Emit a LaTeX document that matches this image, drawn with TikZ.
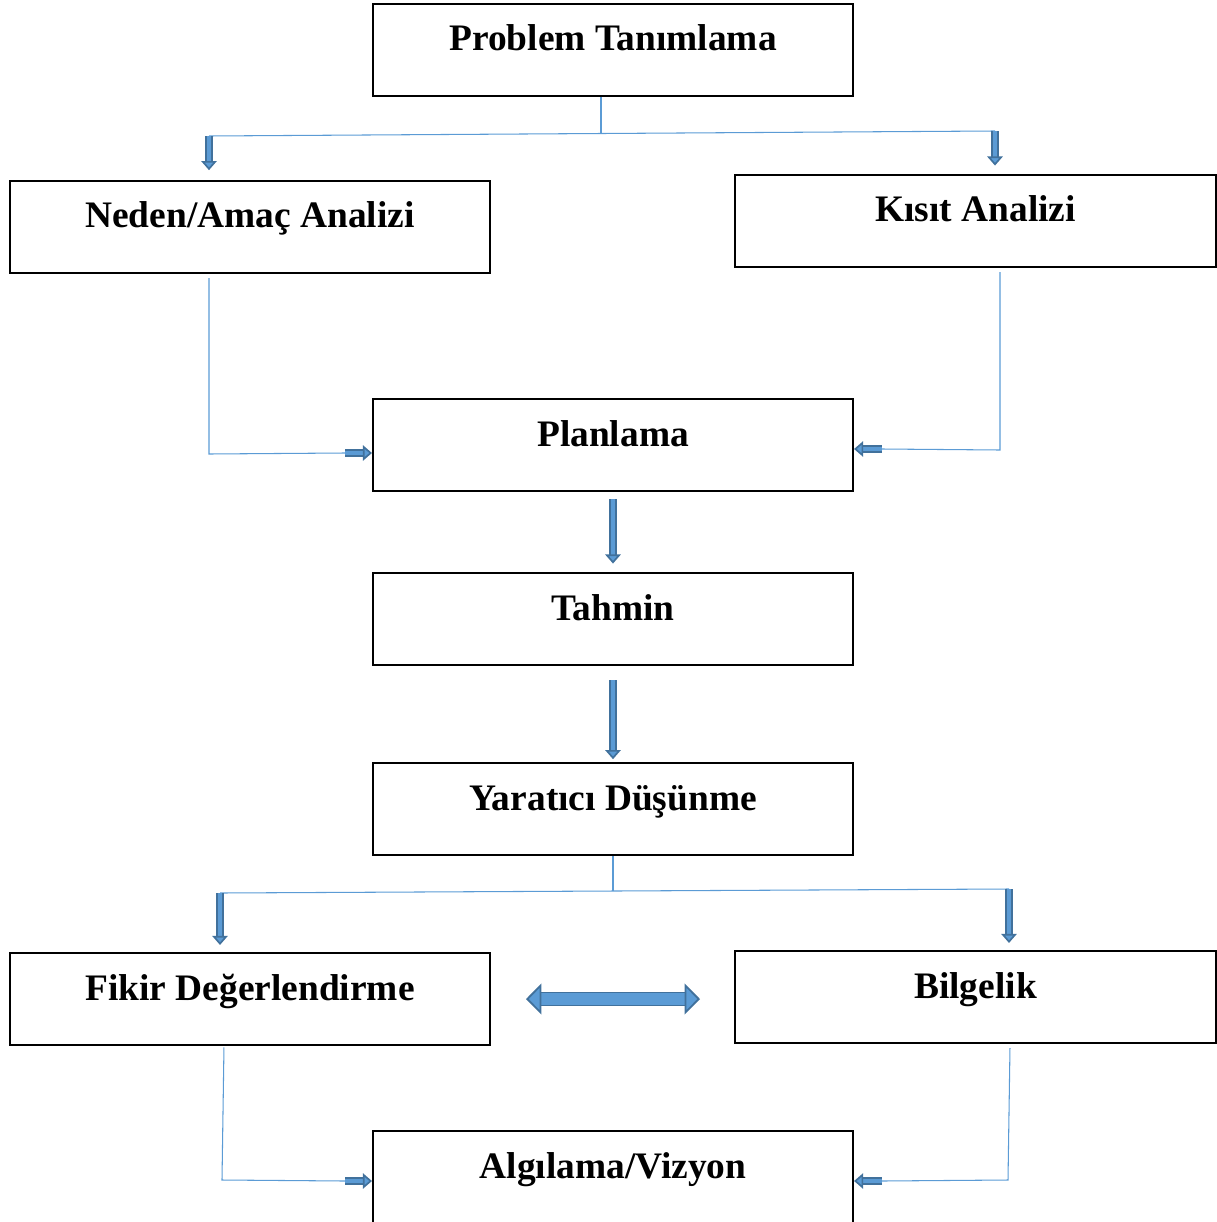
\documentclass[tikz,border=0pt]{standalone}
\usepackage{fontspec}
\setmainfont{Liberation Serif}
\usepackage{tikz}
\usetikzlibrary{arrows.meta,positioning}
\definecolor{linkblue}{HTML}{5B9BD5}
\definecolor{arrowfill}{HTML}{5B9BD5}
\definecolor{arrowedge}{HTML}{41719C}

\begin{document}
\begin{tikzpicture}[
   x=0.025cm, y=-0.025cm,
   stepbox/.style={draw, line width=1.4pt, anchor=north, minimum width=12cm,
      inner sep=0pt, text height=1.175cm, text depth=1.125cm,
      font=\fontsize{26.6}{32}\selectfont\bfseries},
   link/.style={draw=linkblue, line width=0.75pt},
   blockarrow/.style={draw=arrowedge, line width=1.2pt, double=arrowfill,
      double distance=3.2pt,
      -{Triangle[width=11pt, length=6.5pt, fill=arrowfill]}},
   bigarrow/.style={draw=arrowedge, line width=1.3pt, double=arrowfill,
      double distance=8pt,
      {Triangle[width=22pt, length=11pt, fill=arrowfill]}-{Triangle[width=22pt, length=11pt, fill=arrowfill]}}
]
\useasboundingbox (0,0) rectangle (1216,1222);

\node[stepbox] (prob) at (613,3) {Problem Tanımlama};
\node[stepbox] (neden) at (250,180) {Neden/Amaç Analizi};
\node[stepbox] (kisit) at (975.5,174) {Kısıt Analizi};
\node[stepbox] (plan) at (613,398) {Planlama};
\node[stepbox] (tahmin) at (613,572) {Tahmin};
\node[stepbox] (yarat) at (613,762) {Yaratıcı Düşünme};
\node[stepbox] (fikir) at (250,952) {Fikir Değerlendirme};
\node[stepbox] (bilge) at (975.5,950) {Bilgelik};
\node[stepbox] (algi) at (613,1130) {Algılama/Vizyon};

\coordinate (topmid) at (601,134);
\coordinate (topleft) at (209,136);
\coordinate (topright) at (995,131);
\coordinate (nedenbend) at (209,454);
\coordinate (nedenend) at (345,453);
\coordinate (kisitbend) at (1000,450);
\coordinate (kisitend) at (882,449);
\coordinate (botmid) at (613,891);
\coordinate (botleft) at (220,893);
\coordinate (botright) at (1009,889);
\coordinate (fikirbend) at (222,1180);
\coordinate (fikirend) at (345,1181);
\coordinate (bilgebend) at (1008,1180);
\coordinate (bilgeend) at (882,1181);
\coordinate (swapleft) at (526,999);
\coordinate (swapright) at (700,999);

\draw[link] (prob.south -| topmid) -- (topmid);
\draw[link] (topleft) -- (topright);
\draw[blockarrow] (topleft) -- ([yshift=7pt]neden.north -| topleft);
\draw[blockarrow] (topright) -- ([yshift=6pt]kisit.north -| topright);

\draw[link] ([yshift=-3pt]neden.south -| nedenbend) -- (nedenbend) -- (nedenend);
\draw[blockarrow] (nedenend) -- (plan.west |- nedenend);
\draw[link] ([yshift=-3pt]kisit.south -| kisitbend) -- (kisitbend) -- (kisitend);
\draw[blockarrow] (kisitend) -- (plan.east |- kisitend);

\draw[blockarrow] ([yshift=-5pt]plan.south) -- ([yshift=6pt]tahmin.north);
\draw[blockarrow] ([yshift=-10pt]tahmin.south) -- ([yshift=2pt]yarat.north);

\draw[link] (yarat.south) -- (botmid);
\draw[link] (botleft) -- (botright);
\draw[blockarrow] (botleft) -- ([yshift=5pt]fikir.north -| botleft);
\draw[blockarrow] (botright) -- ([yshift=5pt]bilge.north -| botright);

\draw[bigarrow] (swapleft) -- (swapright);

\draw[link] ([xshift=1.4pt, yshift=-1pt]fikir.south -| fikirbend) -- (fikirbend) -- (fikirend);
\draw[blockarrow] (fikirend) -- (algi.west |- fikirend);
\draw[link] ([xshift=1.4pt, yshift=-3pt]bilge.south -| bilgebend) -- (bilgebend) -- (bilgeend);
\draw[blockarrow] (bilgeend) -- (algi.east |- bilgeend);
\end{tikzpicture}
\end{document}
